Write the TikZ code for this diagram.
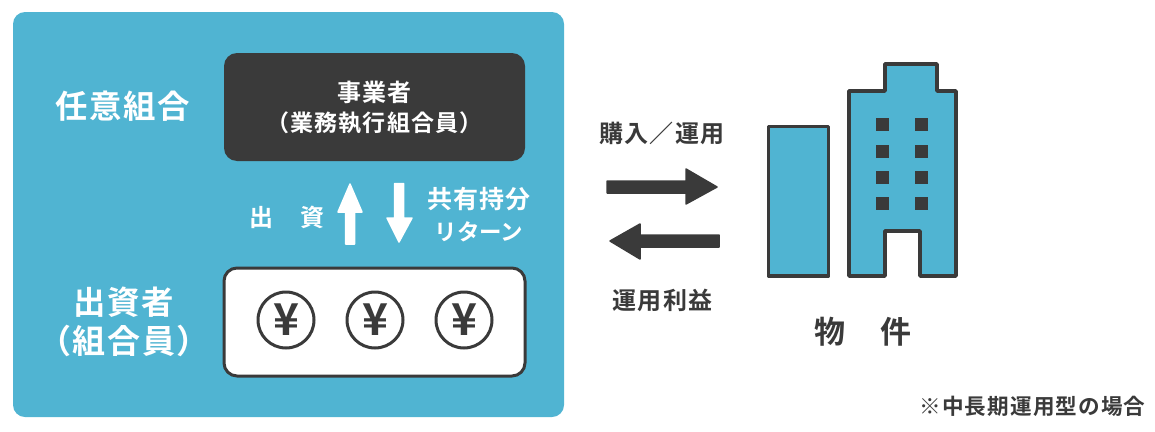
\documentclass[tikz,border=0pt]{standalone}
\usepackage{fontspec}
\setmainfont{Noto Sans CJK JP}[BoldFont={Noto Sans CJK JP Bold}]
\newfontfamily\jp{Noto Sans CJK JP Bold}[LetterSpace=5]
\newfontfamily\jpn{Noto Sans CJK JP Bold}
\definecolor{panel}{HTML}{50B4D2}
\definecolor{ink}{HTML}{3A3A3A}
\tikzset{
 lab/.style={inner sep=0pt,align=center,font=\jp\fontsize{#1}{#1}\selectfont},
 labw/.style={lab=#1,text=white},
 labd/.style={lab=#1,text=ink},
 yen/.style={circle,draw=ink,line width=3pt,fill=white,minimum size=56pt,inner sep=0pt,text=ink,font=\jpn\fontsize{44}{44}\selectfont},
 bld/.style={draw=ink,line width=3.5pt,fill=panel,line join=round},
 win/.style={fill=ink},
 blockw/.style={fill=white,draw=white,line width=1.5pt,line join=round},
 blockd/.style={fill=ink,draw=ink,line width=1.5pt,line join=round}
}
\begin{document}
\begin{tikzpicture}[x=1pt,y=-1pt]
\useasboundingbox (0,0) rectangle (1155,431);
\fill[panel,rounded corners=12pt] (13,12) rectangle (564,417);
\node[labw=32.4] (t1) at (122.5,106) {任意組合};
\fill[ink,rounded corners=13pt] (224,53) rectangle (525,161);
\node[labw=24] (t2) at (374.5,92) {事業者};
\node[labw=23] (t3) at (374.5,123) {（業務執行組合員）};
\fill[white,draw=ink,line width=3pt,rounded corners=13pt] (224,268) rectangle (525,376);
\node[labw=32.4] (t4) at (123.5,302) {出資者};
\node[labw=33] (t5) at (124,341) {（組合員）};
\node[yen] (y1) at (286,320) {\raisebox{-1.5pt}{¥}};
\node[yen] (y2) at (375,320) {\raisebox{-1.5pt}{¥}};
\node[yen] (y3) at (464,320) {\raisebox{-1.5pt}{¥}};
\node[labw=24] (t6) at (287,217) {出　資};
\node[labw=25] (t7) at (479,199) {共有持分};
\node[lab=22.5,text=white,font=\jpn\fontsize{22.5}{22.5}\selectfont] (t8) at (479,232) {リターン};
\draw[blockw] (345.5,244) -- (345.5,212) -- (338,212) -- (350,184) -- (362,212) -- (354.5,212) -- (354.5,244) -- cycle;
\draw[blockw] (394.5,183.5) -- (394.5,218) -- (387,218) -- (399,242) -- (412,218) -- (403.5,218) -- (403.5,183.5) -- cycle;
\draw[blockd] (607,181) -- (686,181) -- (686,169) -- (717,187) -- (686,204) -- (686,193) -- (607,193) -- cycle;
\draw[blockd] (719,235) -- (640,235) -- (640,224) -- (610,241) -- (640,259) -- (640,247) -- (719,247) -- cycle;
\node[labd=24] (t9) at (662,133) {購入／運用};
\node[labd=24] (t10) at (662.5,300) {運用利益};
\draw[bld] (768.5,126.5) rectangle (828.5,276);
\draw[bld] (849,91) -- (885,91) -- (885,64) -- (937,64) -- (937,91) -- (956,91) -- (956,276) -- (920,276) -- (920,231) -- (885,231) -- (885,276) -- (849,276) -- cycle;
\foreach \px in {876,915} \foreach \py in {118,145,171,197} \fill[win] (\px,\py) rectangle ++(13,13);
\node[labd=31] (t11) at (863,332) {物　件};
\node[labd=21.6] (t12) at (1032.5,406) {※中長期運用型の場合};
\end{tikzpicture}
\end{document}
